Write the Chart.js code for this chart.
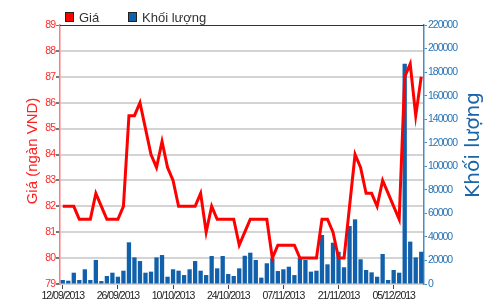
<!DOCTYPE html>
<html><head><meta charset="utf-8">
<script src="https://cdn.jsdelivr.net/npm/chart.js@4.4.0/dist/chart.umd.min.js"></script>
<style>html,body{margin:0;padding:0;background:#fff}#wrap{width:500px;height:300px;position:relative}</style>
</head><body><div id="wrap"><canvas id="c" width="500" height="300"></canvas></div>
<script>
const dates = ['12/09/2013','13/09/2013','16/09/2013','17/09/2013','18/09/2013','19/09/2013','20/09/2013','23/09/2013','24/09/2013','25/09/2013','26/09/2013','27/09/2013','30/09/2013','01/10/2013','02/10/2013','03/10/2013','04/10/2013','07/10/2013','08/10/2013','09/10/2013','10/10/2013','11/10/2013','14/10/2013','15/10/2013','16/10/2013','17/10/2013','18/10/2013','21/10/2013','22/10/2013','23/10/2013','24/10/2013','25/10/2013','28/10/2013','29/10/2013','30/10/2013','31/10/2013','01/11/2013','04/11/2013','05/11/2013','06/11/2013','07/11/2013','08/11/2013','11/11/2013','12/11/2013','13/11/2013','14/11/2013','15/11/2013','18/11/2013','19/11/2013','20/11/2013','21/11/2013','22/11/2013','25/11/2013','26/11/2013','27/11/2013','28/11/2013','29/11/2013','02/12/2013','03/12/2013','04/12/2013','05/12/2013','06/12/2013','09/12/2013','10/12/2013','11/12/2013','12/12/2013'];
const tickLabels = ['12/09/2013','26/09/2013','10/10/2013','24/10/2013','07/11/2013','21/11/2013','05/12/2013'];
const price = [82,82,82,81.5,81.5,81.5,82.5,82,81.5,81.5,
  81.5,82,85.5,85.5,86,85,84,83.5,84.5,83.5,
  83,82,82,82,82,82.5,81,82,81.5,81.5,
  81.5,81.5,80.5,81,81.5,81.5,81.5,81.5,80,80.5,
  80.5,80.5,80.5,80,80,80,80,81.5,81.5,81,
  80,80,82,84,83.5,82.5,82.5,82,83,82.5,
  82,81.5,87,87.5,85.5,87];
const volume = [3400,2800,9600,3400,12500,3400,20400,2500,6800,9600,
  6200,11300,35400,22600,19500,9600,10500,22600,24600,6200,
  12500,11300,7600,12500,19500,11300,7600,23800,13300,23800,
  8500,6800,13300,24000,26600,20400,5400,17600,21800,11000,
  12500,14700,7600,22000,20400,10500,11300,41600,16700,35100,
  27400,14200,49300,54900,21000,11900,9900,6200,25500,3400,
  11900,9600,187000,36000,22600,27400];
const priceMin = 79, priceMax = 89, priceStep = 1;
const volMin = 0, volMax = 220000, volStep = 20000;
const seriesNames = ['Giá', 'Khối lượng'];
const axisTitles = ['Giá (ngàn VND)', 'Khối lượng'];

const RED = '#ff0000', BLUE = '#1060ab';
const SANS = '"Liberation Sans", Arial, sans-serif';

const narrowText = {
  id: 'narrowText',
  beforeDraw(chart) { chart.ctx.letterSpacing = '-1px'; }
};

const overlay = {
  id: 'overlay',
  afterDraw(chart) {
    const ctx = chart.ctx;
    const ca = chart.chartArea;
    ctx.save();
    ctx.letterSpacing = '0px';
    // top border
    ctx.strokeStyle = '#333'; ctx.lineWidth = 1;
    ctx.beginPath(); ctx.moveTo(ca.left, ca.top + 0.5); ctx.lineTo(ca.right, ca.top + 0.5); ctx.stroke();
    // legend
    ctx.font = '13px ' + SANS;
    ctx.textBaseline = 'alphabetic'; ctx.textAlign = 'left';
    const items = [{x: 65, c: RED, t: seriesNames[0]}, {x: 128, c: BLUE, t: seriesNames[1]}];
    items.forEach(it => {
      ctx.fillStyle = it.c; ctx.fillRect(it.x, 12, 9, 10);
      ctx.strokeStyle = '#222'; ctx.lineWidth = 1; ctx.strokeRect(it.x + 0.5, 12.5, 8, 9);
      ctx.fillStyle = '#333'; ctx.fillText(it.t, it.x + 14, 22);
    });
    // axis titles
    ctx.textAlign = 'center'; ctx.textBaseline = 'middle';
    ctx.save();
    ctx.translate(33, 151); ctx.rotate(-Math.PI / 2);
    ctx.font = '15px ' + SANS;
    ctx.fillStyle = '#ff2020';
    ctx.fillText(axisTitles[0], 0, 0);
    ctx.restore();
    ctx.save();
    ctx.translate(474, 145); ctx.rotate(-Math.PI / 2);
    ctx.font = '20px "DejaVu Sans", sans-serif';
    ctx.fillStyle = '#1a66a8';
    ctx.fillText(axisTitles[1], 0, 0);
    ctx.restore();
    ctx.restore();
  }
};

new Chart(document.getElementById('c'), {
  data: {
    labels: dates,
    datasets: [
      {type: 'line', label: seriesNames[0], data: price, yAxisID: 'yL', borderColor: RED, borderWidth: 3,
       pointRadius: 0, tension: 0, order: 1},
      {type: 'bar', label: seriesNames[1], data: volume, yAxisID: 'yR', backgroundColor: BLUE,
       barPercentage: 0.78, categoryPercentage: 1, order: 2}
    ]
  },
  options: {
    responsive: false, animation: false,
    layout: {padding: {top: 25, left: 0, right: 0, bottom: 0}},
    plugins: {legend: {display: false}, tooltip: {enabled: false}},
    scales: {
      x: {
        type: 'category', offset: true,
        grid: {drawOnChartArea: false, drawTicks: true, tickLength: 5, offset: false, color: '#444', lineWidth: 1},
        border: {display: false},
        ticks: {autoSkip: false, maxRotation: 0, minRotation: 0, padding: 1, color: '#222',
          font: {family: SANS, size: 10.5},
          callback: (v, i) => tickLabels.includes(dates[i]) ? dates[i] : null},
        afterFit: s => { s.height = 16; }
      },
      yL: {
        position: 'left', min: priceMin, max: priceMax,
        ticks: {stepSize: priceStep, color: '#ff2a2a', padding: 1, font: {family: SANS, size: 10.5}},
        grid: {color: c => c.tick && c.tick.value === priceMax ? '#333' : '#d4d4d4',
               lineWidth: c => c.tick && c.tick.value === priceMax ? 1 : 2,
               tickColor: '#777', tickLength: 4, drawTicks: true},
        border: {color: '#ff7a7a', width: 1.5},
        afterFit: s => { s.width = 60; }
      },
      yR: {
        position: 'right', min: volMin, max: volMax,
        ticks: {stepSize: volStep, color: '#2a74b5', padding: 1, font: {family: SANS, size: 10.5},
          callback: v => String(v)},
        grid: {drawOnChartArea: false, tickColor: '#4a8cc2', tickLength: 3},
        border: {color: '#4a8cc2', width: 1.5},
        afterFit: s => { s.width = 76; }
      }
    }
  },
  plugins: [narrowText, overlay]
});
</script></body></html>
